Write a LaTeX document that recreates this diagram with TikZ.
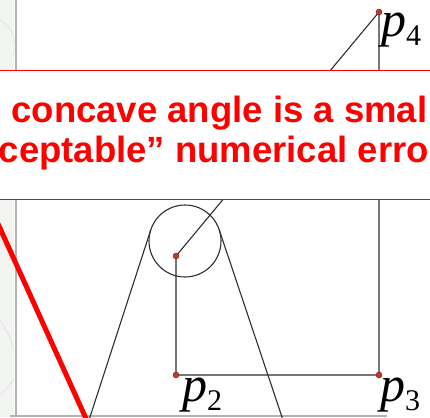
\documentclass[tikz,border=0pt]{standalone}
\usepackage{fontspec}
\setmainfont{Liberation Serif}
\newfontfamily\arialfont{Liberation Sans}
\usetikzlibrary{calc}
\definecolor{geo}{HTML}{2E2E2E}
\definecolor{dotfill}{HTML}{C0392B}
\definecolor{dotline}{HTML}{7A1A1A}
\definecolor{bgstrip}{HTML}{F2F4F2}
\newcommand{\plabel}[1]{{\fontsize{50}{50}\selectfont\itshape p}{\fontsize{30}{30}\selectfont\raisebox{-9pt}{#1}}}
\begin{document}
\begin{tikzpicture}[x=1pt,y=-1pt,
  geoline/.style={draw=geo,line width=1.1pt},
  ptdot/.style={circle,fill=dotfill,draw=dotline,line width=0.4pt,minimum size=6pt,inner sep=0pt},
  plab/.style={anchor=base west,inner sep=0pt,text=black},
  redtxt/.style={anchor=base west,inner sep=0pt,text=red,font=\arialfont\bfseries\fontsize{36.5}{36.5}\selectfont},
  faint/.style={draw=black!12,line width=0.6pt}]
\useasboundingbox (0,0) rectangle (430,417);
% background strip on the left
\fill[bgstrip] (0,0) rectangle (14,417);
\draw[faint] (0,20) arc[start angle=-60,end angle=20,radius=30];
\draw[faint] (0,120) .. controls (8,110) .. (14,95);
\draw[faint] (0,240) .. controls (8,250) .. (14,262);
\draw[faint] (0,320) .. controls (9,335) .. (14,350);
\draw[faint] (0,395) .. controls (8,388) .. (14,378);
\draw[draw=black!30,line width=1.4pt] (16,0) -- (16,417);
\draw[draw=black!30,line width=2pt] (10,415.5) -- (387,415.5);
% thick red line
\coordinate (r1) at (-20,184);
\coordinate (r2) at (88,423);
\draw[red,line width=5pt] (r1) -- (r2);
% circle and tangent lines
\node[circle,geoline,minimum size=72pt,inner sep=0pt,outer sep=0pt] (c) at (185,241) {};
\coordinate (b1) at (89,420);
\coordinate (b2) at (283,420);
\draw[geoline] (b1) -- (tangent cs:node=c,point={(b1)},solution=2);
\draw[geoline] (b2) -- (tangent cs:node=c,point={(b2)},solution=1);
% polygon
\coordinate (q) at (176,256);
\coordinate (p2) at (176,375);
\coordinate (p3) at (379,375);
\coordinate (p4) at (379,12);
\draw[geoline] (q) -- (p4) -- (p3) -- (p2) -- (q);
\node[ptdot] (dq) at (q) {};
\node[ptdot] (d2) at (p2) {};
\node[ptdot] (d3) at (p3) {};
\node[ptdot] (d4) at (p4) {};
\node[plab] (l2) at (182,401) {\plabel{2}};
\node[plab] (l3) at (380,401) {\plabel{3}};
\node[plab] (l4) at (381,37) {\plabel{4}};
% callout box
\node[draw=red,line width=1.3pt,fill=white,minimum width=460pt,minimum height=129pt,anchor=north west,inner sep=0pt] (box) at (-15,70) {};
\node[redtxt] (t1) at (11.3,122) {concave angle is a smal};
\node[redtxt] (t2) at (-1.4,162) {ceptable” numerical erro};
\end{tikzpicture}
\end{document}
